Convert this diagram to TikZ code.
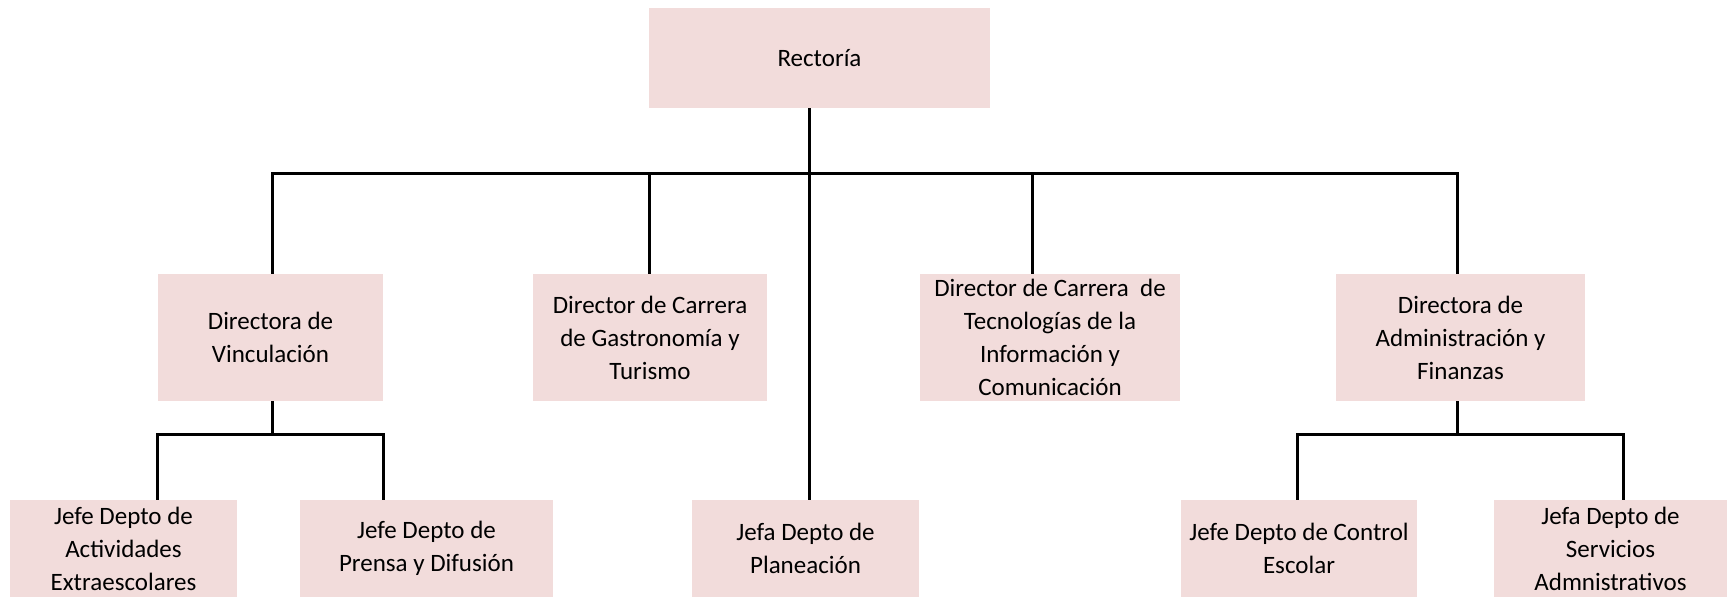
\documentclass[tikz,border=0pt]{standalone}
\usepackage{fontspec}
\setmainfont{Carlito}
\definecolor{boxfill}{HTML}{F2DCDB}
\begin{document}
\begin{tikzpicture}[x=0.75pt,y=-0.75pt,
  box/.style={rectangle, fill=boxfill, inner sep=0pt, align=center,
    font=\fontsize{18.75}{24.75}\selectfont},
  lvlone/.style={box, minimum height=95.25pt},
  lvltwo/.style={box, minimum height=72.75pt},
  conn/.style={line width=2.25pt, line join=miter, draw=black}]
\useasboundingbox (0,0) rectangle (1727,598);

% nodes
\node[box, minimum width=255.75pt, minimum height=75pt] (rect) at (819.5,58) {Rectoría};
\node[lvlone, minimum width=168.75pt] (vinc) at (270.5,337.5) {Directora de\\Vinculación};
\node[lvlone, minimum width=175.5pt] (gast) at (650,337.5) {Director de Carrera\\de Gastronomía y\\Turismo};
\node[lvlone, minimum width=195pt] (tic) at (1050,337.5) {Director de Carrera\ \ de\\Tecnologías de la\\Información y\\Comunicación};
\node[lvlone, minimum width=186.75pt] (admin) at (1460.5,337.5) {Directora de\\Administración y\\Finanzas};
\node[lvltwo, minimum width=170.25pt] (act) at (123.5,548.5) {Jefe Depto de\\Actividades\\Extraescolares};
\node[lvltwo, minimum width=189.75pt] (prensa) at (426.5,548.5) {Jefe Depto de\\Prensa y Difusión};
\node[lvltwo, minimum width=170.25pt] (plan) at (805.5,548.5) {Jefa Depto de\\Planeación};
\node[lvltwo, minimum width=177pt] (control) at (1299,548.5) {Jefe Depto de Control\\Escolar};
\node[lvltwo, minimum width=174.75pt] (serv) at (1610.5,548.5) {Jefa Depto de\\Servicios\\Admnistrativos};

% connector coordinates
\coordinate (tx) at (809,0);
\coordinate (busL) at (272,174);
\coordinate (busR) at (1457,174);
\coordinate (gx) at (649,174);
\coordinate (ticx) at (1032,174);
\coordinate (subL) at (157,434);
\coordinate (subR) at (383,434);
\coordinate (subA) at (1297,434);
\coordinate (subB) at (1623,434);

% connectors
\draw[conn] (rect.south -| tx) -- (plan.north -| tx);
\draw[conn] (busL |- vinc.north) -- (busL) -- (busR) -- (busR |- admin.north);
\draw[conn] (gx) -- (gx |- gast.north);
\draw[conn] (ticx) -- (ticx |- tic.north);
\draw[conn] (vinc.south -| busL) -- (busL |- subL);
\draw[conn] (subL |- act.north) -- (subL) -- (subR) -- (subR |- prensa.north);
\draw[conn] (admin.south -| busR) -- (busR |- subA);
\draw[conn] (subA |- control.north) -- (subA) -- (subB) -- (subB |- serv.north);
\end{tikzpicture}
\end{document}
